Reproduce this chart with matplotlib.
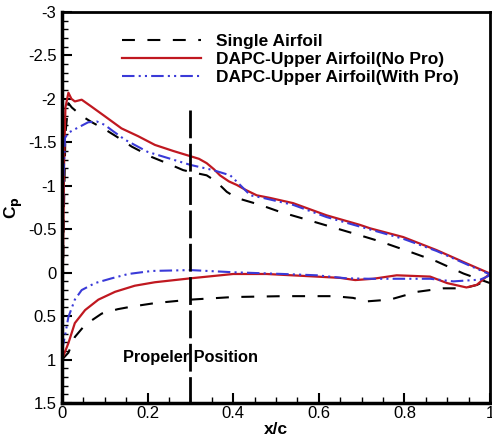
import numpy as np
import matplotlib
matplotlib.use('Agg')
import matplotlib.pyplot as plt
from matplotlib.ticker import MultipleLocator

plt.rcParams['font.family'] = ['Liberation Sans', 'DejaVu Sans']

# Single airfoil (black dashed)
x_single_up = [0.0, 0.004, 0.008, 0.015, 0.023, 0.035, 0.047, 0.07, 0.1, 0.139, 0.163,
               0.21, 0.25, 0.283, 0.3, 0.338, 0.36, 0.385, 0.408, 0.463, 0.509, 0.572,
               0.634, 0.696, 0.743, 0.813, 0.875, 0.938, 1.0]
cp_single_up = [1.0, -0.6, -1.6, -1.95, -1.9, -1.85, -1.8, -1.73, -1.65, -1.53, -1.45,
                -1.33, -1.25, -1.18, -1.16, -1.12, -1.05, -0.93, -0.86, -0.78, -0.70, -0.61,
                -0.52, -0.43, -0.36, -0.24, -0.13, 0.01, 0.12]
x_single_lo = [0.0, 0.015, 0.03, 0.054, 0.093, 0.13, 0.163, 0.217, 0.3, 0.4, 0.517, 0.634,
               0.68, 0.712, 0.766, 0.83, 0.89, 0.938, 0.97, 1.0]
cp_single_lo = [1.0, 0.92, 0.74, 0.60, 0.47, 0.42, 0.39, 0.35, 0.31, 0.28, 0.27, 0.27,
                0.29, 0.33, 0.31, 0.22, 0.18, 0.18, 0.14, 0.06]

# DAPC upper airfoil, no propeller (red solid)
x_nopro_up = [0.0, 0.002, 0.005, 0.008, 0.015, 0.022, 0.03, 0.046, 0.069, 0.1, 0.139, 0.178,
              0.217, 0.26, 0.3, 0.32, 0.338, 0.355, 0.369, 0.39, 0.408, 0.43, 0.455, 0.486,
              0.54, 0.618, 0.696, 0.72, 0.797, 0.875, 0.953, 1.0]
cp_nopro_up = [1.0, 0.0, -1.3, -1.9, -2.07, -2.0, -1.97, -1.99, -1.91, -1.80, -1.66, -1.57,
               -1.47, -1.40, -1.34, -1.31, -1.26, -1.19, -1.12, -1.05, -1.01, -0.95, -0.89, -0.86,
               -0.80, -0.66, -0.55, -0.51, -0.41, -0.26, -0.09, 0.01]
x_nopro_lo = [0.0, 0.015, 0.03, 0.054, 0.085, 0.124, 0.17, 0.217, 0.3, 0.4, 0.478, 0.595,
              0.65, 0.685, 0.727, 0.782, 0.86, 0.9, 0.945, 0.969, 1.0]
cp_nopro_lo = [1.0, 0.81, 0.58, 0.43, 0.31, 0.22, 0.15, 0.11, 0.065, 0.015, 0.015, 0.045,
               0.06, 0.085, 0.07, 0.03, 0.045, 0.12, 0.17, 0.14, 0.01]

# DAPC upper airfoil, with propeller (blue dash-dot-dot)
x_pro_up = [0.0, 0.001, 0.003, 0.007, 0.015, 0.03, 0.061, 0.081, 0.1, 0.116, 0.147, 0.2,
            0.3, 0.353, 0.393, 0.412, 0.44, 0.47, 0.54, 0.618, 0.696, 0.797, 0.875, 0.953, 1.0]
cp_pro_up = [0.9, 0.0, -1.0, -1.55, -1.61, -1.65, -1.73, -1.74, -1.70, -1.64, -1.53, -1.39,
             -1.24, -1.18, -1.12, -1.03, -0.89, -0.86, -0.78, -0.64, -0.53, -0.39, -0.25, -0.08, 0.02]
x_pro_lo = [0.0, 0.008, 0.015, 0.03, 0.046, 0.077, 0.116, 0.155, 0.21, 0.3, 0.4, 0.517,
            0.595, 0.665, 0.72, 0.86, 0.914, 0.977, 1.0]
cp_pro_lo = [0.9, 0.7, 0.51, 0.31, 0.20, 0.12, 0.065, 0.015, -0.02, -0.03, -0.005, 0.015,
             0.03, 0.065, 0.07, 0.07, 0.10, 0.08, 0.03]

prop_x = 0.3

fig = plt.figure(figsize=(4.92, 4.41), dpi=100)
ax = fig.add_axes([0.126, 0.086, 0.87, 0.887])

red = '#c01820'
blue = '#3a3ad8'
dash_k = (6.2, 6.0)
dash_b = (6, 2, 1, 2, 1, 2)

ax.plot(x_single_up, cp_single_up, color='black', lw=1.5, dashes=dash_k, label='Single Airfoil')
ax.plot(x_single_lo, cp_single_lo, color='black', lw=1.5, dashes=dash_k)
ax.plot(x_nopro_up, cp_nopro_up, color=red, lw=1.6, label='DAPC-Upper Airfoil(No Pro)')
ax.plot(x_nopro_lo, cp_nopro_lo, color=red, lw=1.6)
ax.plot(x_pro_up, cp_pro_up, color=blue, lw=1.5, dashes=dash_b,
        label='DAPC-Upper Airfoil(With Pro)')
ax.plot(x_pro_lo, cp_pro_lo, color=blue, lw=1.5, dashes=dash_b)

ax.plot([prop_x, prop_x], [-1.87, 1.5], color='black', lw=2, dashes=(10, 2))
ax.text(prop_x, 0.98, 'Propeler Position', ha='center', va='center',
        fontsize=11.8, fontweight='bold')

ax.set_xlim(0, 1)
ax.set_ylim(1.5, -3)
ax.xaxis.set_major_locator(MultipleLocator(0.2))
ax.xaxis.set_minor_locator(MultipleLocator(0.05))
ax.yaxis.set_major_locator(MultipleLocator(0.5))
ax.yaxis.set_minor_locator(MultipleLocator(0.1))
ax.xaxis.set_major_formatter(plt.FuncFormatter(lambda v, p: f'{v:g}'))
ax.yaxis.set_major_formatter(plt.FuncFormatter(lambda v, p: f'{v:g}'))
ax.tick_params(which='both', direction='in', top=False, right=False, labelsize=12)
ax.tick_params(which='major', length=7, width=1.5)
ax.tick_params(which='minor', length=4, width=1)
ax.tick_params(axis='x', pad=2)
ax.tick_params(axis='y', pad=4)
for s in ['left', 'bottom']:
    ax.spines[s].set_linewidth(2.5)
for s in ['top', 'right']:
    ax.spines[s].set_linewidth(2)

ax.set_xlabel('x/c', fontsize=12.5, fontweight='bold', labelpad=1)
ax.set_ylabel(r'C$_\mathbf{p}$', fontsize=12.5, fontweight='bold', labelpad=2)

ax.legend(loc='upper left', bbox_to_anchor=(0.125, 0.962), frameon=False,
          prop={'weight': 'bold', 'size': 12.5}, handlelength=4.55, handletextpad=0.86,
          labelspacing=0.18, borderaxespad=0)

fig.savefig('out.png', dpi=100)
